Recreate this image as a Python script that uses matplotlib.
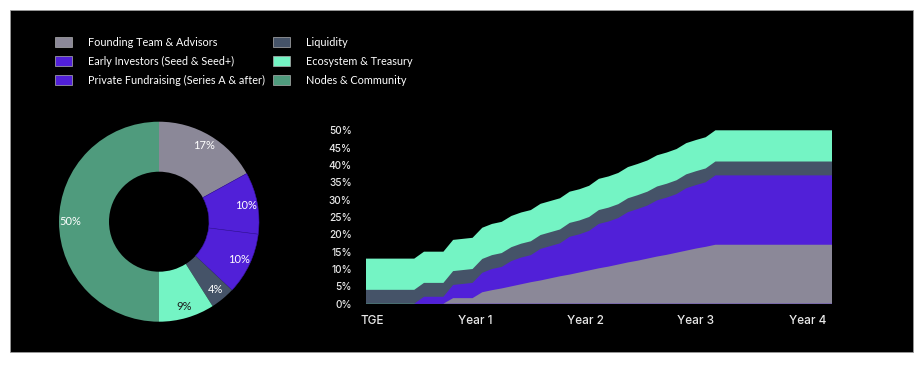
import matplotlib
matplotlib.use("Agg")
import matplotlib.pyplot as plt
import numpy as np
from matplotlib.patches import Rectangle

# ---------------- data ----------------
categories = ["Founding Team & Advisors", "Early Investors (Seed & Seed+)",
              "Private Fundraising (Series A & after)", "Liquidity",
              "Ecosystem & Treasury", "Nodes & Community"]
alloc_pct = [17, 10, 10, 4, 9, 50]
colors = ["#8b8898", "#5120d8", "#5120d8", "#455368", "#74f4c4", "#4f9b7d"]

months = list(range(49))
team = [0, 0, 0, 0, 0, 0, 0, 0, 0, 1.6, 1.6, 1.6,
        3.3, 3.9, 4.4, 5.0, 5.6, 6.2, 6.7, 7.3, 7.9, 8.4, 9.0, 9.6,
        10.2, 10.7, 11.3, 11.9, 12.4, 13.0, 13.6, 14.1, 14.7, 15.3, 15.9, 16.4,
        17, 17, 17, 17, 17, 17, 17, 17, 17, 17, 17, 17, 17]
early = [0, 0, 0, 0, 0, 0, 1, 1, 1, 1.9, 2.05, 2.2,
         2.8, 3.05, 3.1, 3.65, 3.85, 3.9, 4.55, 4.65, 4.75, 5.45, 5.5, 5.7,
         6.4, 6.5, 6.7, 7.25, 7.45, 7.65, 8.1, 8.25, 8.45, 9.0, 9.15, 9.3,
         10, 10, 10, 10, 10, 10, 10, 10, 10, 10, 10, 10, 10]
private = [0, 0, 0, 0, 0, 0, 1, 1, 1, 1.9, 2.05, 2.2,
           2.8, 3.05, 3.1, 3.65, 3.85, 3.9, 4.55, 4.65, 4.75, 5.45, 5.5, 5.7,
           6.4, 6.5, 6.7, 7.25, 7.45, 7.65, 8.1, 8.25, 8.45, 9.0, 9.15, 9.3,
           10, 10, 10, 10, 10, 10, 10, 10, 10, 10, 10, 10, 10]
liquidity = [4] * 49
ecosystem = [9] * 49

x_tick_pos = [0.65, 11.28, 22.6, 34.0, 45.5]
x_tick_labels = ["TGE", "Year 1", "Year 2", "Year 3", "Year 4"]
y_ticks = [0, 5, 10, 15, 20, 25, 30, 35, 40, 45, 50]

# ---------------- figure ----------------
W, H = 922, 368
fig = plt.figure(figsize=(W / 100, H / 100), dpi=100, facecolor="white")
fig.patches.append(Rectangle((10 / W, 1 - 352 / H), 903 / W, 342 / H,
                             transform=fig.transFigure, facecolor="black",
                             edgecolor="#9a9a9a", linewidth=0.6, zorder=-5))

# donut
axp = fig.add_axes([59 / W, 1 - 321.7 / H, 200 / W, 200 / H])
axp.set_facecolor("none")
axp.set_zorder(2)
wedges, _, autotexts = axp.pie(alloc_pct, colors=colors, startangle=90,
                               counterclock=False, autopct="%d%%",
                               pctdistance=0.885,
                               wedgeprops=dict(width=0.5, linewidth=0),
                               textprops=dict(family="Lato", fontsize=8,
                                              color="white"))
for w in wedges[1:3]:
    w.set_edgecolor("#3a16a8")
    w.set_linewidth(0.4)
autotexts[4].set_color("#1a1a1a")
axp.set_xlim(-1, 1)
axp.set_ylim(-1, 1)
axp.set_aspect("equal")

# legend
leg = fig.legend(wedges, categories, ncol=2, loc="upper left",
                 bbox_to_anchor=(50 / W, 1 - 31.5 / H), frameon=False,
                 prop=dict(family="Lato", size=7.85), labelcolor="white",
                 handlelength=1.55, handleheight=1.0, handletextpad=1.45,
                 labelspacing=0.72, columnspacing=0.75, borderpad=0)
for h in leg.legend_handles:
    h.set_linewidth(0.5)
    h.set_edgecolor("#b0b0b0")

# stacked area (each layer filled from 0 to its cumulative top, top layer first,
# so adjacent layers overlap and no antialiasing seams appear)
ax = fig.add_axes([365.7 / W, 1 - 303.7 / H, (832 - 365.7) / W, (303.7 - 130.3) / H])
ax.set_facecolor("none")
ax.set_zorder(2)
series = [team, early, private, liquidity, ecosystem]
tops = np.cumsum(np.array(series, dtype=float), axis=0)
for top, c in list(zip(tops, colors[:5]))[::-1]:
    ax.fill_between(months, 0, top, facecolor=c, linewidth=0)
ax.set_xlim(0, 48)
ax.set_ylim(0, 50)
ax.set_yticks(y_ticks)
ax.set_yticklabels([f"{v}%" for v in y_ticks], family="Inter", fontsize=7.3,
                   fontweight="medium", color="#e8e8e8")
ax.set_xticks(x_tick_pos)
ax.set_xticklabels(x_tick_labels, family="Inter", fontsize=8.5,
                   fontweight="medium", color="#e8e8e8")
ax.tick_params(axis="y", length=0, pad=10)
ax.tick_params(axis="x", length=0, pad=8)
for s in ax.spines.values():
    s.set_visible(False)

fig.savefig("out.png", dpi=100, facecolor="white")
